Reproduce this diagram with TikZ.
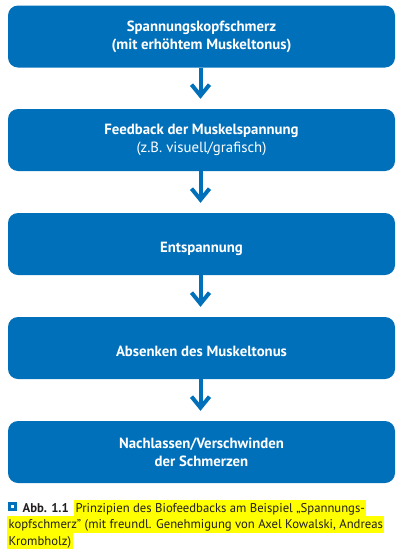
\documentclass[tikz,border=0pt]{standalone}
\usepackage{fontspec}
\setmainfont{PT Sans}
\usetikzlibrary{arrows.meta}
\definecolor{boxblue}{HTML}{0070BA}
\definecolor{hl}{HTML}{FFFF00}
\definecolor{captxt}{HTML}{231F20}
\begin{document}
\begin{tikzpicture}[x=1pt,y=-1pt,
  stepbox/.style={fill=boxblue, rounded corners=10pt, minimum width=387pt,
    minimum height=62pt, inner sep=0pt, text=white, align=center,
    font=\bfseries\fontsize{14.8}{17.8}\selectfont},
  oneline/.style={text height=17pt, text depth=0pt},
  flow/.style={draw=boxblue, line width=4pt,
    -{Straight Barb[length=11pt,width=18pt]}, shorten >=10pt},
  captext/.style={anchor=base west, text=captxt, inner xsep=1.5pt, inner ysep=0pt,
    text height=12.5pt, text depth=4pt, font=\fontsize{12.7}{16.5}\selectfont},
  hlline/.style={captext, fill=hl}]
\useasboundingbox (0,0) rectangle (403,555);
\node[stepbox] (b1) at (201.5,36.5) {Spannungskopfschmerz\\(mit erhöhtem Muskeltonus)};
\node[stepbox] (b2) at (201.5,140) {Feedback der Muskelspannung\\{\mdseries (z.B. visuell/grafisch)}};
\node[stepbox, oneline] (b3) at (201.5,244) {Entspannung};
\node[stepbox, oneline] (b4) at (201.5,348) {Absenken des Muskeltonus};
\node[stepbox] (b5) at (201.5,452) {Nachlassen/Verschwinden\\der Schmerzen};
\draw[flow] ([xshift=-1pt]b1.south) -- ([xshift=-1pt]b2.north);
\draw[flow] ([xshift=-1pt]b2.south) -- ([xshift=-1pt]b3.north);
\draw[flow] ([xshift=-1pt]b3.south) -- ([xshift=-1pt]b4.north);
\draw[flow] ([xshift=-1pt]b4.south) -- ([xshift=-1pt]b5.north);
\node[fill=boxblue, minimum size=8.5pt, inner sep=0pt] (icon) at (12.3,506.5) {};
\node[fill=white, minimum size=3.5pt, inner sep=0pt] (iconin) at (icon) {};
\node[captext, font=\bfseries\fontsize{12.7}{16.5}\selectfont] (abb) at (21,512) {Abb. 1.1};
\node[hlline] (l1) at (74,512) {Prinzipien des Biofeedbacks am Beispiel „Spannungs-};
\node[hlline] (l2) at (7,528.5) {kopfschmerz" (mit freundl. Genehmigung von Axel Kowalski, Andreas};
\node[hlline] (l3) at (7,545) {Krombholz)};
\end{tikzpicture}
\end{document}
